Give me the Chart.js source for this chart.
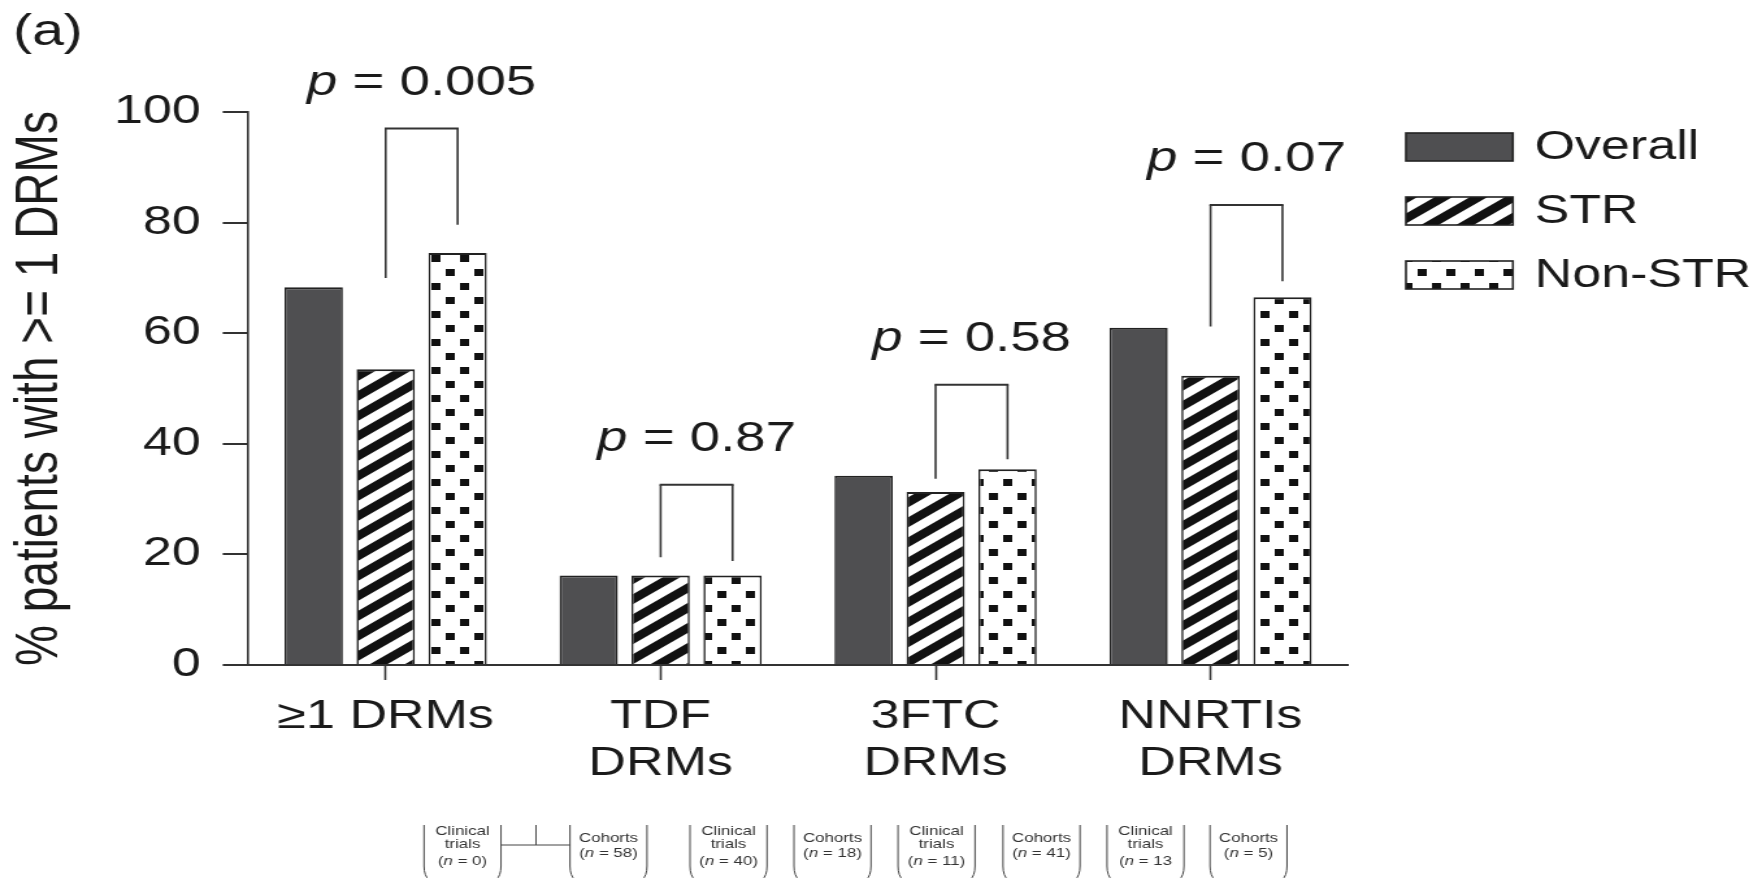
<!DOCTYPE html>
<html>
<head>
<meta charset="utf-8">
<script src="https://cdn.jsdelivr.net/npm/chart.js@4.4.1/dist/chart.umd.min.js"></script>
<style>
  html, body { margin: 0; padding: 0; background: #fff; overflow: hidden; }
  #wrap { width: 1356px; height: 878px; transform: scaleX(1.29941); transform-origin: 0 0; }
</style>
</head>
<body>
<div id="wrap"><canvas id="chart" width="1356" height="878"></canvas></div>
<script>
// values (% patients)
const categories = ['≥1 DRMs', ['TDF', 'DRMs'], ['3FTC', 'DRMs'], ['NNRTIs', 'DRMs']];
const overall = [68.3, 16.2, 34.2, 61.0];
const str = [53.5, 16.2, 31.3, 52.3];
const nonStr = [74.5, 16.2, 35.4, 66.5];
const yTicks = [0, 20, 40, 60, 80, 100];

// STR vs Non-STR comparisons
const pValues = ['0.005', '0.87', '0.58', '0.07'];
const bracketTop = [97.0, 32.6, 50.7, 83.2];
const bracketLeftEnd = [70.0, 19.5, 33.7, 61.2];
const bracketRightEnd = [79.6, 18.8, 37.2, 69.4];

// sub-group boxes under the axis
const groupType = ['Clinical trials', 'Cohorts', 'Clinical trials', 'Cohorts', 'Clinical trials', 'Cohorts', 'Clinical trials', 'Cohorts'];
const groupN = [' = 0)', ' = 58)', ' = 40)', ' = 18)', ' = 11)', ' = 41)', ' = 13', ' = 5)'];

const FONT = '"Liberation Sans", Arial, Helvetica, sans-serif';
const canvas = document.getElementById('chart');
const mainCtx = canvas.getContext('2d');

function stripes() {
    const W = 27, H = 20;
    const c = document.createElement('canvas');
    c.width = W; c.height = H;
    const g = c.getContext('2d');
    g.fillStyle = '#fff';
    g.fillRect(0, 0, W, H);
    g.strokeStyle = '#111';
    g.lineWidth = 8;
    g.beginPath();
    for (let k = -1; k <= 1; k++) {
        g.moveTo(-W, 2 * H + k * H);
        g.lineTo(2 * W, -H + k * H);
    }
    g.stroke();
    return mainCtx.createPattern(c, 'repeat');
}

function dots() {
    const c = document.createElement('canvas');
    c.width = 22; c.height = 28;
    const g = c.getContext('2d');
    g.fillStyle = '#fff';
    g.fillRect(0, 0, 22, 28);
    g.fillStyle = '#111';
    g.fillRect(2, 3, 7, 7);
    g.fillRect(13, 17, 7, 7);
    return mainCtx.createPattern(c, 'repeat');
}

function mixedText(ctx, parts, cx, y, size) {
    // parts: [text, italic]
    let w = 0;
    parts.forEach(p => {
        ctx.font = (p[1] ? 'italic ' : '') + size + 'px ' + FONT;
        w += ctx.measureText(p[0]).width;
    });
    let x = cx - w / 2;
    parts.forEach(p => {
        ctx.font = (p[1] ? 'italic ' : '') + size + 'px ' + FONT;
        ctx.fillText(p[0], x, y);
        x += ctx.measureText(p[0]).width;
    });
}

const extras = {
    id: 'extras',
    afterDatasetsDraw(chart) {
        const ctx = chart.ctx;
        const y = chart.scales.y;
        const mStr = chart.getDatasetMeta(1);
        const mNon = chart.getDatasetMeta(2);
        ctx.save();
        ctx.strokeStyle = '#333';
        ctx.fillStyle = '#1a1a1a';
        ctx.textAlign = 'left';
        ctx.textBaseline = 'alphabetic';
        pValues.forEach((p, i) => {
            const x1 = mStr.data[i].x, x2 = mNon.data[i].x;
            const yt = y.getPixelForValue(bracketTop[i]);
            ctx.lineWidth = 1.6;
            ctx.beginPath();
            ctx.moveTo(x1, y.getPixelForValue(bracketLeftEnd[i]));
            ctx.lineTo(x1, yt);
            ctx.moveTo(x2, yt);
            ctx.lineTo(x2, y.getPixelForValue(bracketRightEnd[i]));
            ctx.stroke();
            ctx.lineWidth = 2;
            ctx.beginPath();
            ctx.moveTo(x1 - 0.8, yt);
            ctx.lineTo(x2 + 0.8, yt);
            ctx.stroke();
            mixedText(ctx, [['p', true], [' = ' + p, false]], (x1 + x2) / 2, yt - 34, 42);
        });
        ctx.restore();
    },
    afterDraw(chart) {
        const ctx = chart.ctx;
        const s = 1.29941;
        ctx.save();
        ctx.fillStyle = '#1a1a1a';
        ctx.textBaseline = 'alphabetic';
        ctx.textAlign = 'left';
        ctx.font = '44px ' + FONT;
        ctx.fillText('(a)', 10, 45);

        // legend
        const tops = [133, 197, 261];
        chart.data.datasets.forEach((ds, i) => {
            const bx = 1082, bw = 82.3, bh = 28;
            ctx.fillStyle = ds.backgroundColor;
            ctx.fillRect(bx, tops[i], bw, bh);
            ctx.strokeStyle = '#222';
            ctx.lineWidth = 1.6;
            ctx.strokeRect(bx, tops[i], bw, bh);
            ctx.fillStyle = '#1a1a1a';
            ctx.font = '40px ' + FONT;
            ctx.textBaseline = 'middle';
            ctx.fillText(ds.label, 1181, tops[i] + bh / 2 + 1);
        });

        // sub-group boxes
        const lefts = [424, 570, 690, 794, 898, 1003, 1107, 1210].map(v => v / s);
        const bw = 77 / s;
        ctx.strokeStyle = '#444';
        ctx.lineWidth = 1;
        ctx.textBaseline = 'middle';
        ctx.fillStyle = '#333';
        lefts.forEach((xl, i) => {
            const xr = xl + bw;
            ctx.beginPath();
            ctx.moveTo(xl, 825); ctx.lineTo(xl, 866); ctx.quadraticCurveTo(xl, 876, xl + 4, 880);
            ctx.moveTo(xr, 825); ctx.lineTo(xr, 866); ctx.quadraticCurveTo(xr, 876, xr - 4, 880);
            ctx.stroke();
            const cx = xl + bw / 2;
            const nParts = [['(', false], ['n', true], [groupN[i], false]];
            if (groupType[i] === 'Cohorts') {
                mixedText(ctx, [['Cohorts', false]], cx, 838, 13);
                mixedText(ctx, nParts, cx, 853, 13);
            } else {
                const w = groupType[i].split(' ');
                mixedText(ctx, [[w[0], false]], cx, 831, 13);
                mixedText(ctx, [[w[1], false]], cx, 844.5, 13);
                mixedText(ctx, nParts, cx, 861, 13);
            }
        });
        // connector between the first two boxes
        ctx.beginPath();
        ctx.moveTo(lefts[0] + bw, 845); ctx.lineTo(lefts[1], 845);
        ctx.moveTo(536 / s, 825); ctx.lineTo(536 / s, 845);
        ctx.stroke();
        ctx.restore();
    }
};

const barOpts = { categoryPercentage: 0.785, barPercentage: 0.81, borderColor: '#222',
    borderWidth: { left: 1.6, right: 1.6, top: 2, bottom: 0 }, borderSkipped: false };

new Chart(canvas, {
    type: 'bar',
    data: {
        labels: categories,
        datasets: [
            Object.assign({ label: 'Overall', data: overall, backgroundColor: '#4f4f51' }, barOpts),
            Object.assign({ label: 'STR', data: str, backgroundColor: stripes() }, barOpts),
            Object.assign({ label: 'Non-STR', data: nonStr, backgroundColor: dots() }, barOpts)
        ]
    },
    options: {
        responsive: false,
        animation: false,
        layout: { padding: { top: 112, right: 318.6, bottom: 0, left: 0 } },
        plugins: { legend: { display: false }, tooltip: { enabled: false } },
        scales: {
            x: {
                afterFit: sc => { sc.height = 213; },
                grid: { offset: false, drawOnChartArea: false, drawTicks: true, tickLength: 15, tickWidth: 1.6, tickColor: '#333' },
                border: { display: true, color: '#333', width: 2 },
                ticks: { font: { family: FONT, size: 40, lineHeight: 1.16 }, color: '#1a1a1a', padding: 14, maxRotation: 0, autoSkip: false }
            },
            y: {
                min: 0,
                max: 100,
                afterFit: sc => { sc.width = 191; },
                afterBuildTicks: sc => { sc.ticks = yTicks.map(v => ({ value: v })); },
                grid: { drawOnChartArea: false, drawTicks: true, tickLength: 19.6, tickWidth: 2, lineWidth: 2, tickColor: '#333' },
                border: { display: true, color: '#333', width: 1.6 },
                ticks: { font: { family: FONT, size: 40 }, color: '#1a1a1a', padding: 17 },
                title: { display: true, text: '% patients with >= 1 DRMs', color: '#1a1a1a',
                    font: { family: FONT, size: 46, lineHeight: 1.2 }, padding: { top: 4, bottom: 0 } }
            }
        }
    },
    plugins: [extras]
});
</script>
</body>
</html>
